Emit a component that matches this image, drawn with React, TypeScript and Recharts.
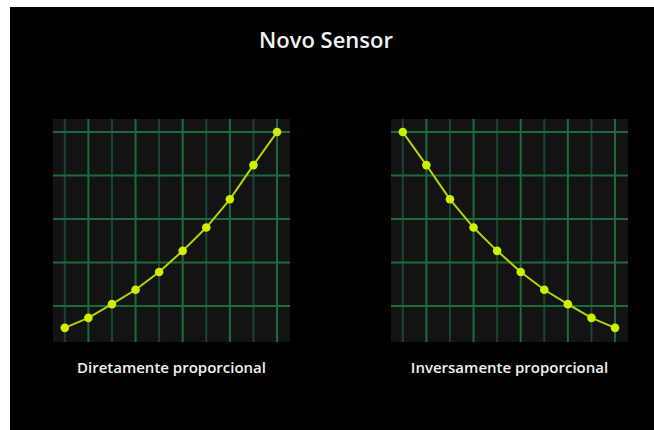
import { LineChart, Line, XAxis, YAxis, CartesianGrid } from 'recharts';

const steps = [1, 2, 3, 4, 5, 6, 7, 8, 9, 10];
const directValues = [0, 0.46, 1.09, 1.75, 2.57, 3.54, 4.61, 5.91, 7.48, 9];
const inverseValues = [9, 7.48, 5.91, 4.61, 3.54, 2.57, 1.75, 1.09, 0.46, 0];

const xMajorTicks = [2, 4, 6, 8, 10];
const xMinorTicks = [1, 3, 5, 7, 9];
const yMajorTicks = [1, 3, 5, 7, 9];
const yMinorTicks = [0, 2, 4, 6, 8];

const font = '"Open Sans", "Noto Sans", sans-serif';

// grid line that skips anything lying on the plot border
const gridLine = (props: any) => {
  const { x1, y1, x2, y2, x, y, width, height, stroke, strokeWidth } = props;
  const onEdge =
    (x1 === x2 && (Math.abs(x1 - x) < 1 || Math.abs(x1 - (x + width)) < 1)) ||
    (y1 === y2 && (Math.abs(y1 - y) < 1 || Math.abs(y1 - (y + height)) < 1));
  if (onEdge) return <g />;
  return <line x1={x1} y1={y1} x2={x2} y2={y2} stroke={stroke} strokeWidth={strokeWidth} />;
};

const SensorChart = ({ values }: { values: number[] }) => {
  const data = steps.map((s, i) => ({ x: s, y: values[i] }));
  return (
    <LineChart
      width={237}
      height={223}
      data={data}
      margin={{ top: 0, right: 0, bottom: 0, left: 0 }}
      style={{ background: '#131313' }}
    >
      <XAxis xAxisId="minor" type="number" dataKey="x" domain={[0.5, 10.55]} ticks={xMinorTicks} hide />
      <XAxis xAxisId="major" type="number" dataKey="x" domain={[0.5, 10.55]} ticks={xMajorTicks} hide />
      <YAxis yAxisId="minor" type="number" domain={[-0.65, 9.6]} ticks={yMinorTicks} hide />
      <YAxis yAxisId="major" type="number" domain={[-0.65, 9.6]} ticks={yMajorTicks} hide />
      <CartesianGrid
        xAxisId="minor"
        yAxisId="minor"
        stroke="#17482a"
        strokeWidth={2}
        horizontal={gridLine}
        vertical={gridLine}
      />
      <CartesianGrid
        xAxisId="major"
        yAxisId="major"
        stroke="#1c6c3b"
        strokeWidth={2}
        horizontal={gridLine}
        vertical={gridLine}
      />
      <Line
        xAxisId="major"
        yAxisId="major"
        type="linear"
        dataKey="y"
        stroke="#b8d400"
        strokeWidth={2}
        dot={{ r: 4.3, fill: '#cfee00', stroke: '#cfee00', strokeWidth: 0 }}
        isAnimationActive={false}
      />
    </LineChart>
  );
};

const labelStyle = {
  position: 'absolute' as const,
  top: 350,
  width: 237,
  textAlign: 'center' as const,
  fontSize: 15,
  fontWeight: 600,
};

export default function App() {
  return (
    <div
      style={{
        position: 'fixed',
        left: 10,
        top: 7,
        width: 644,
        height: 423,
        background: '#000',
        fontFamily: font,
        color: '#f2f2f2',
      }}
    >
      <div
        style={{
          position: 'absolute',
          left: 0,
          top: 17,
          width: 632,
          textAlign: 'center',
          fontSize: 22,
          fontWeight: 600,
        }}
      >
        Novo Sensor
      </div>
      <div style={{ position: 'absolute', left: 43, top: 112 }}>
        <SensorChart values={directValues} />
      </div>
      <div style={{ position: 'absolute', left: 381, top: 112 }}>
        <SensorChart values={inverseValues} />
      </div>
      <div style={{ ...labelStyle, left: 43 }}>Diretamente proporcional</div>
      <div style={{ ...labelStyle, left: 381 }}>Inversamente proporcional</div>
    </div>
  );
}
